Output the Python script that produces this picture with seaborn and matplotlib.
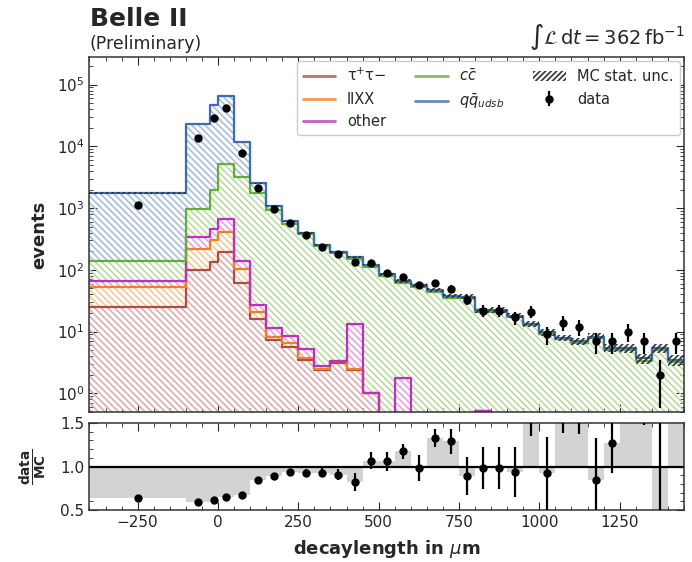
import numpy as np
import pandas as pd
import matplotlib
matplotlib.use("Agg")
import matplotlib.pyplot as plt
import seaborn as sns
from matplotlib.lines import Line2D
from matplotlib.patches import Patch
from matplotlib.ticker import MultipleLocator, LogLocator, NullFormatter

# ---------------- data ----------------
bin_edges = [-400, -100, -25, 0] + list(range(50, 1451, 50))

tau_vals = [24.8, 100, 136, 197, 62, 16, 7.3, 5.6, 3.5, 2.4, 3.1, 2.4, 1.0, 0, 0, 0,
            0, 0, 0, 0.52, 0, 0, 0, 0, 0, 0, 0, 0, 0, 0, 0, 0]
llxx_vals = [28.2, 118, 169, 219, 40, 5, 1.0, 0.9, 0.2, 0.1, 0.2, 0.1, 0, 0, 0, 0,
             0, 0, 0, 0, 0, 0, 0, 0, 0, 0, 0, 0, 0, 0, 0, 0]
other_vals = [13, 127, 150, 252, 37, 6, 3.3, 2.0, 1.5, 0.3, 0.0, 10.6, 0.02, 0, 1.8, 0,
              0, 0, 0, 0, 0, 0, 0, 0, 0, 0, 0, 0, 0, 0, 0, 0]
ccbar_vals = [75, 615, 1515, 4482, 3101, 1713, 938, 551, 370, 237, 182, 137, 111, 80, 60, 53,
              43.5, 35.5, 34.5, 20.5, 21, 17, 12.6, 9.1, 7.5, 6.6, 7.8, 5.1, 5.0, 3.4, 5.0, 3.2]
qq_vals = [1619, 22140, 44530, 59250, 8460, 800, 137, 50, 25, 16, 12, 12, 8, 5, 4.7, 4,
           3.2, 2.5, 2.5, 1.4, 1.4, 1.2, 0.9, 0.65, 0.5, 0.4, 0.5, 0.4, 0.4, 0.3, 0.4, 0.3]

data_vals = [1130, 13600, 28600, 41600, 7900, 2150, 965, 570, 372, 238, 179, 133, 128, 90, 78, 56,
             62, 49, 33, 22, 22, 17, 21, 9, 14, 12, 7, 7, 10, 7, 2, 7]

mc_rel_unc = [0.02, 0.005, 0.004, 0.003, 0.008, 0.015, 0.02, 0.025, 0.03, 0.035, 0.04, 0.045,
              0.05, 0.06, 0.065, 0.07, 0.075, 0.08, 0.085, 0.09, 0.10, 0.10, 0.11, 0.12,
              0.12, 0.13, 0.13, 0.14, 0.15, 0.18, 0.17, 0.20]

ratio_err = [0.03, 0.01, 0.01, 0.01, 0.015, 0.02, 0.02, 0.03, 0.04, 0.05, 0.06, 0.10,
             0.10, 0.11, 0.09, 0.15, 0.10, 0.14, 0.22, 0.24, 0.24, 0.29, 0.20, 0.42,
             0.36, 0.34, 0.48, 0.35, 0.30, 0.42, 1.20, 0.40]

labels = ["τ$^{+}$τ−", "llXX", "other", r"$c\bar{c}$", r"$q\bar{q}_{udsb}$"]
colors = ["#b24b45", "#f08020", "#c030c0", "#62b030", "#3c6cb4"]

# ---------------- derived ----------------
edges = np.array(bin_edges, dtype=float)
centers = 0.5 * (edges[:-1] + edges[1:])
comps = np.array([tau_vals, llxx_vals, other_vals, ccbar_vals, qq_vals], dtype=float)
cum = np.cumsum(comps, axis=0)
total = cum[-1]
data = np.array(data_vals, dtype=float)
ratio = data / total
floor = 0.05


def light(c, f=0.5):
    rgb = np.array(matplotlib.colors.to_rgb(c))
    return tuple(rgb + (1 - rgb) * f)


# ---------------- style ----------------
sns.set_style("ticks")
plt.rcParams.update({
    "font.family": ["DejaVu Sans"],
    "xtick.direction": "in", "ytick.direction": "in",
    "xtick.top": True, "ytick.right": True,
    "xtick.minor.visible": True, "ytick.minor.visible": True,
    "xtick.major.size": 6, "ytick.major.size": 6,
    "xtick.minor.size": 3, "ytick.minor.size": 3,
    "xtick.labelsize": 11, "ytick.labelsize": 11,
    "axes.edgecolor": "#333333", "axes.linewidth": 1.1,
    "hatch.linewidth": 1.2,
})

fig = plt.figure(figsize=(6.92, 5.62), dpi=100)
ax = fig.add_axes([0.1293, 0.2669, 0.859, 0.6317])
rax = fig.add_axes([0.1293, 0.0925, 0.859, 0.1548], sharex=ax)

# hatched fills
lower = np.full_like(total, floor)
for i in range(5):
    upper = np.clip(cum[i], floor, None)
    ax.stairs(upper, edges, baseline=lower, fill=True, facecolor="none",
              edgecolor=light(colors[i], 0.55), hatch="\\" * 5, linewidth=0, zorder=1)
    lower = upper

# outlines through seaborn
for i in range(5):
    df = pd.DataFrame({"x": centers, "w": np.clip(cum[i], floor, None)})
    sns.histplot(data=df, x="x", weights="w", bins=list(edges),
                 element="step", fill=False, color=colors[i], linewidth=1.6,
                 ax=ax, zorder=2)

# MC stat unc band
unc = total * np.array(mc_rel_unc)
ax.stairs(total + unc, edges, baseline=total - unc, fill=True, facecolor="none",
          edgecolor="#333333", hatch="//////", linewidth=0, zorder=3)

# data
ax.errorbar(centers, data, yerr=np.sqrt(data), fmt="o", color="black", ms=5,
            elinewidth=1.6, capsize=0, zorder=4)

ax.set_yscale("log")
ax.set_ylim(0.5, 2.8e5)
ax.set_xlim(-400, 1450)
ax.yaxis.set_major_locator(LogLocator(base=10, numticks=10))
ax.yaxis.set_minor_locator(LogLocator(base=10, subs=np.arange(2, 10), numticks=20))
ax.yaxis.set_minor_formatter(NullFormatter())
ax.xaxis.set_major_locator(MultipleLocator(250))
ax.xaxis.set_minor_locator(MultipleLocator(50))
ax.tick_params(axis="x", labelbottom=False)
ax.set_xlabel("")
ax.set_ylabel("events", fontsize=13, fontweight="bold", labelpad=6)

# legend
handles = [Line2D([], [], color=c, lw=2, alpha=0.8) for c in colors]
handles.append(Patch(facecolor="none", edgecolor="#333333", hatch="//////", linewidth=0))
dh = ax.errorbar([], [], yerr=[], fmt="o", color="black", ms=5, elinewidth=1.6)
handles.append(dh)
leg_labels = labels + ["MC stat. unc.", "data"]
ax.legend(handles, leg_labels, ncol=3, loc="upper right", fontsize=10.5,
          frameon=True, edgecolor="#cccccc", fancybox=True, framealpha=1,
          borderaxespad=0.3, columnspacing=2.0, handlelength=2.2)

# ratio panel
rax.stairs(ratio, edges, baseline=1.0, fill=True, color="#d3d3d3", linewidth=0, zorder=1)
rax.axhline(1.0, color="black", lw=1.6, zorder=2)
rax.errorbar(centers, ratio, yerr=ratio_err, fmt="o", color="black", ms=5,
             elinewidth=1.6, capsize=0, zorder=3)
rax.set_ylim(0.5, 1.5)
rax.set_yticks([0.5, 1.0, 1.5])
rax.yaxis.set_minor_locator(MultipleLocator(0.1))
rax.set_ylabel(r"$\mathbf{\frac{data}{MC}}$", fontsize=14, labelpad=8)
rax.set_xlabel(r"decaylength in $\mu$m", fontsize=13, fontweight="bold", labelpad=6)

# header texts
fig.text(0.130, 0.953, "Belle II", fontsize=18, fontweight="bold", va="baseline", ha="left")
fig.text(0.130, 0.912, "(Preliminary)", fontsize=12.5, va="baseline", ha="left")
fig.text(0.99, 0.922, r"$\int\mathcal{L}\,\mathrm{d}t = 362\,\mathrm{fb}^{-1}$",
         fontsize=14, va="baseline", ha="right")

fig.savefig("out.png", dpi=100)
